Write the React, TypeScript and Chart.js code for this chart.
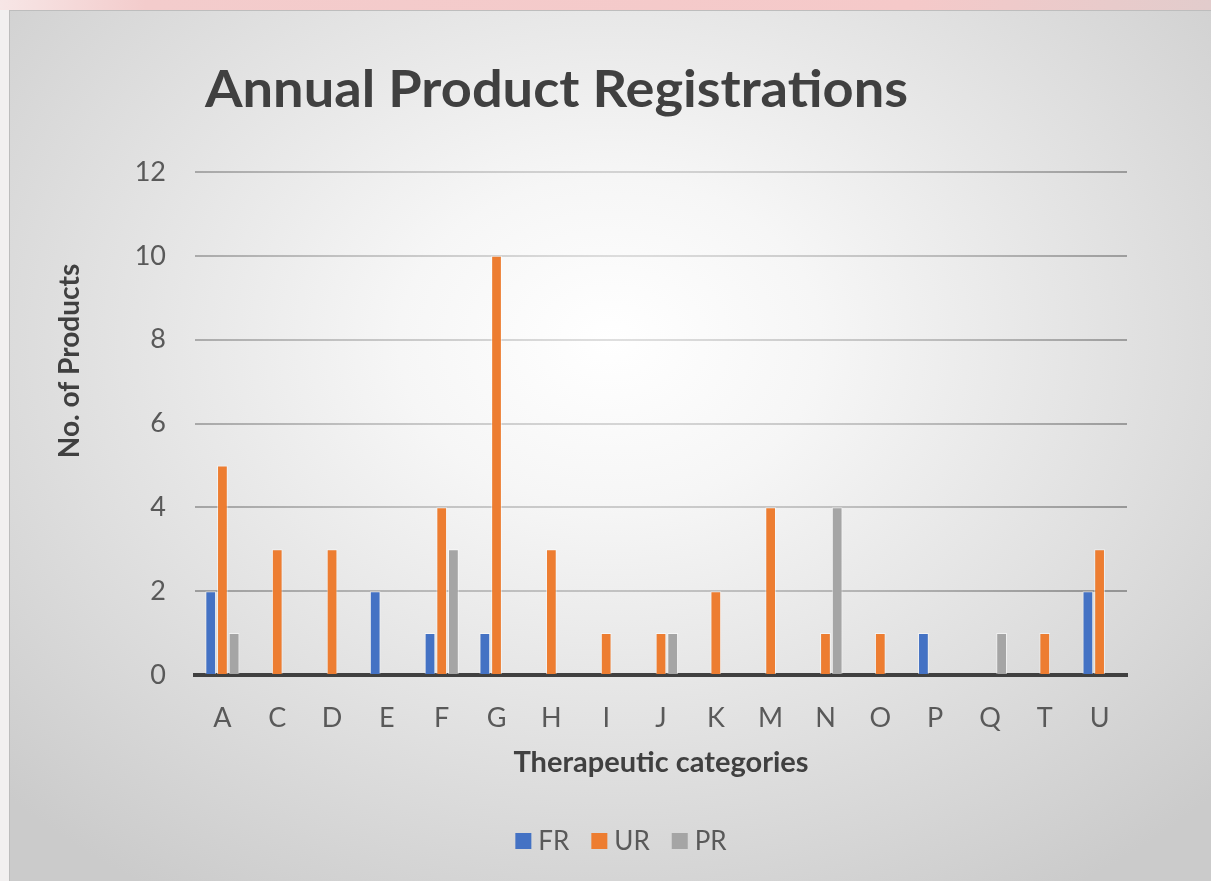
import React, { useEffect, useRef } from 'react';
import { Chart, registerables } from 'chart.js';

Chart.register(...registerables);

const TITLE = 'Annual Product Registrations';
const X_TITLE = 'Therapeutic categories';
const Y_TITLE = 'No. of Products';

const categories = ['A', 'C', 'D', 'E', 'F', 'G', 'H', 'I', 'J', 'K', 'M', 'N', 'O', 'P', 'Q', 'T', 'U'];
const frValues = [2, null, null, 2, 1, 1, null, null, null, null, null, null, null, 1, null, null, 2];
const urValues = [5, 3, 3, null, 4, 10, 3, 1, 1, 2, 4, 1, 1, null, null, 1, 3];
const prValues = [1, null, null, null, 3, null, null, null, 1, null, null, 4, null, null, 1, null, null];

const seriesNames = ['FR', 'UR', 'PR'];
const seriesColors = ['#4472C4', '#ED7D31', '#A5A5A5'];

const Y_MIN = 0;
const Y_MAX = 12;
const Y_STEP = 2;

const FONT = 'Lato';

const titlePlugin = {
  id: 'customTitle',
  afterDraw(chart: any) {
    const ctx = chart.ctx;
    ctx.save();
    ctx.font = `bold 52px ${FONT}`;
    ctx.fillStyle = '#404040';
    ctx.textBaseline = 'alphabetic';
    ctx.textAlign = 'left';
    const w = ctx.measureText(TITLE).width;
    const sx = 703 / w;
    ctx.translate(196, 97);
    ctx.scale(sx, 1);
    ctx.fillText(TITLE, 0, 0);
    ctx.restore();

    // y-axis title
    ctx.save();
    ctx.font = `bold 28px ${FONT}`;
    ctx.fillStyle = '#404040';
    ctx.textBaseline = 'middle';
    ctx.textAlign = 'center';
    ctx.translate(61, 351);
    ctx.rotate(-Math.PI / 2);
    ctx.fillText(Y_TITLE, 0, 0);
    ctx.restore();
  },
};

const legendPlugin = {
  id: 'customLegend',
  afterDraw(chart: any) {
    const ctx = chart.ctx;
    ctx.save();
    ctx.font = `26px ${FONT}`;
    ctx.textBaseline = 'middle';
    ctx.textAlign = 'left';
    const box = 16;
    const gap = 7;
    const spacing = 22;
    const widths = seriesNames.map((n) => box + gap + ctx.measureText(n).width);
    const total = widths.reduce((a, b) => a + b, 0) + spacing * (seriesNames.length - 1);
    let x = 612 - total / 2;
    const cy = 831;
    seriesNames.forEach((n, i) => {
      ctx.fillStyle = seriesColors[i];
      ctx.fillRect(x, cy - box / 2, box, box);
      ctx.fillStyle = '#595959';
      ctx.fillText(n, x + box + gap, cy + 1);
      x += widths[i] + spacing;
    });
    ctx.restore();
  },
};

let gridGradient: any = null;
function gridColor(c: any) {
  if (c.tick && c.tick.value === 0) return 'rgba(0,0,0,0)';
  const chart = c.chart;
  if (!gridGradient) {
    const g = chart.ctx.createRadialGradient(611, 300, 0, 611, 300, 560);
    g.addColorStop(0, '#e2e2e2');
    g.addColorStop(0.5, '#c2c2c2');
    g.addColorStop(1, '#959595');
    gridGradient = g;
  }
  return gridGradient;
}

export default function App() {
  const canvasRef = useRef<HTMLCanvasElement | null>(null);

  useEffect(() => {
    if (!canvasRef.current) return;
    gridGradient = null;
    const datasets = [frValues, urValues, prValues].map((vals, i) => ({
      label: seriesNames[i],
      data: vals,
      backgroundColor: seriesColors[i],
      borderColor: 'rgba(255,255,255,0.55)',
      borderWidth: 1,
      categoryPercentage: 0.64,
      barPercentage: 0.92,
    }));
    const chart = new Chart(canvasRef.current, {
      type: 'bar',
      data: { labels: categories, datasets },
      options: {
        responsive: false,
        animation: false,
        layout: { padding: { top: 162, right: 84, left: 0, bottom: 0 } },
        plugins: {
          legend: { display: false },
          title: { display: false },
          tooltip: { enabled: false },
        },
        scales: {
          x: {
            z: 1,
            grid: { display: false, drawTicks: false },
            border: { display: true, color: '#404040', width: 4 },
            ticks: { padding: 27, color: '#595959', font: { family: FONT, size: 27 } },
            title: {
              display: true,
              text: X_TITLE,
              color: '#404040',
              font: { family: FONT, size: 29, weight: 'bold' },
              padding: { top: 0, bottom: 101 },
            },
            afterFit(scale: any) {
              scale.height = 206;
            },
          },
          y: {
            min: Y_MIN,
            max: Y_MAX,
            grid: { color: gridColor, lineWidth: 2, drawTicks: false },
            border: { display: false },
            ticks: { stepSize: Y_STEP, padding: 29, color: '#595959', font: { family: FONT, size: 27 } },
            title: { display: false },
            afterFit(scale: any) {
              scale.width = 186;
            },
          },
        },
      },
      plugins: [titlePlugin, legendPlugin],
    } as any);
    return () => chart.destroy();
  }, []);

  return (
    <div
      style={{
        position: 'absolute',
        left: 0,
        top: 0,
        width: 1211,
        height: 881,
        overflow: 'hidden',
        background: 'linear-gradient(to right, #f7e6e6 0%, #f3cccc 12%, #f5c9c9 75%, #e2cccc 100%)',
      }}
    >
      <div
        style={{
          position: 'absolute',
          left: 0,
          top: 10,
          width: 9,
          height: 871,
          background: '#f2f0f0',
        }}
      />
      <div
        style={{
          position: 'absolute',
          left: 9,
          top: 10,
          width: 1202,
          height: 871,
          boxShadow: 'inset 1px 1px 0 #bdbdbd',
          background:
            'radial-gradient(ellipse 70% 75% at 50% 38%, #ffffff 0%, #f6f6f6 25%, #e2e2e2 60%, #cbcbcb 100%)',
        }}
      >
        <canvas ref={canvasRef} width={1202} height={871} style={{ display: 'block' }} />
      </div>
    </div>
  );
}
